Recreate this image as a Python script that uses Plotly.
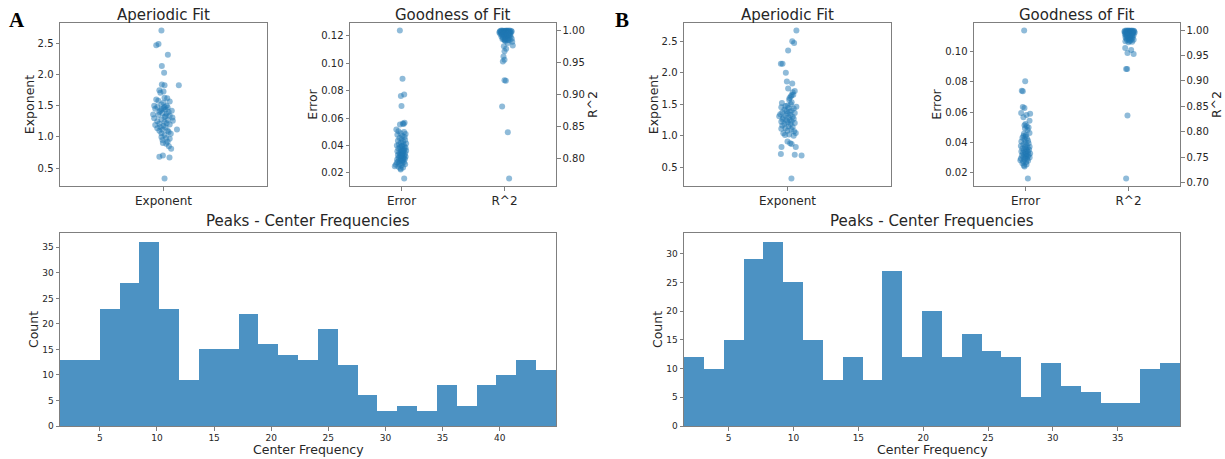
import numpy as np
import plotly.graph_objects as go

# ---------------- DATA ----------------
# Panel A
exp_A = [2.71, 2.47, 2.49, 2.32, 2.14, 2.03, 1.83, 1.84, 1.83, 1.75, 1.71, 1.73, 1.60, 1.63, 1.62,
         1.58, 1.55, 1.52, 1.50, 1.48, 1.47, 1.45, 1.46, 1.44, 1.42, 1.40, 1.38, 1.37, 1.35, 1.34,
         1.32, 1.31, 1.30, 1.28, 1.27, 1.25, 1.24, 1.22, 1.21, 1.20, 1.18, 1.16, 1.15, 1.12, 1.12,
         1.10, 1.08, 1.05, 1.06, 1.03, 1.00, 0.98, 0.97, 0.95, 0.90, 0.89, 0.92, 0.85, 0.81, 0.68,
         0.70, 0.67, 0.33, 1.42, 1.50, 1.57, 1.36, 1.26, 1.14, 1.40, 1.48, 1.33, 1.19, 1.44, 1.10]
exp_A_jitter = [-0.01, -0.035, -0.024, 0.021, -0.008, 0.003, 0.074, -0.008, 0.005, -0.02, -0.015, 0.0, -0.035, 0.005, 0.018,
                -0.025, 0.0, -0.01, 0.015, -0.03, 0.02, -0.04, 0.0, 0.01, -0.015, 0.025, -0.005, 0.015, -0.025, 0.03,
                0.005, 0.043, -0.045, -0.01, 0.02, -0.03, 0.005, 0.015, -0.02, 0.03, 0.0, -0.015, 0.01, 0.065, -0.005,
                0.02, 0.025, 0.035, -0.01, 0.005, -0.01, 0.013, 0.03, -0.005, -0.003, 0.013, 0.02, 0.026, 0.037, -0.02,
                -0.003, 0.029, 0.005, 0.04, -0.045, 0.03, -0.05, 0.045, -0.03, -0.02, 0.005, 0.01, -0.04, -0.01, -0.02]

err_A = [0.124, 0.0888, 0.0761, 0.0773, 0.0688, 0.0554, 0.0561, 0.0566, 0.0558, 0.0517, 0.0505, 0.0498, 0.0490,
         0.0485, 0.0478, 0.0470, 0.0462, 0.0455, 0.0448, 0.0440, 0.0435, 0.0428, 0.0420, 0.0415, 0.0410, 0.0405,
         0.0400, 0.0398, 0.0392, 0.0388, 0.0383, 0.0378, 0.0374, 0.0370, 0.0366, 0.0362, 0.0358, 0.0354, 0.0350,
         0.0346, 0.0342, 0.0338, 0.0335, 0.0331, 0.0328, 0.0325, 0.0321, 0.0318, 0.0315, 0.0311, 0.0308, 0.0305,
         0.0302, 0.0298, 0.0295, 0.0291, 0.0288, 0.0284, 0.0280, 0.0276, 0.0272, 0.0268, 0.0264, 0.0260, 0.0255,
         0.0249, 0.0245, 0.0240, 0.0232, 0.0226, 0.0159, 0.0395, 0.0345, 0.0330, 0.0360]
err_A_jitter = [-0.016, 0.01, -0.006, 0.026, 0.0, -0.015, 0.013, 0.03, 0.02, -0.05, -0.03, 0.025, -0.01,
                0.04, -0.04, 0.01, 0.03, -0.02, 0.0, 0.035, -0.035, 0.015, -0.005, 0.045, -0.025, 0.02,
                -0.045, 0.005, 0.03, -0.015, 0.04, -0.03, 0.01, 0.025, -0.008, 0.045, -0.04, 0.0, 0.018,
                -0.022, 0.035, -0.01, 0.008, -0.035, 0.028, 0.0, -0.018, 0.04, 0.012, -0.028, 0.022, -0.005,
                0.033, -0.042, 0.015, -0.012, 0.005, -0.03, 0.025, -0.045, 0.01, -0.02, 0.035, -0.055, 0.0,
                -0.065, -0.03, 0.015, -0.01, -0.008, 0.026, 0.0, 0.01, -0.002, 0.02]

r2_A = [0.984, 0.976, 0.975, 0.971, 0.967, 0.959, 0.954, 0.951, 0.922, 0.921, 0.881, 0.841, 0.769,
        0.9995, 0.9993, 0.9992, 0.9990, 0.9989, 0.9988, 0.9987, 0.9986, 0.9985, 0.9984, 0.9983, 0.9982,
        0.9980, 0.9979, 0.9978, 0.9977, 0.9975, 0.9974, 0.9973, 0.9972, 0.9970, 0.9969, 0.9967, 0.9966,
        0.9964, 0.9962, 0.9960, 0.9958, 0.9956, 0.9954, 0.9952, 0.9950, 0.9948, 0.9946, 0.9944, 0.9941,
        0.9938, 0.9935, 0.9932, 0.9929, 0.9926, 0.9922, 0.9918, 0.9914, 0.9910, 0.9906, 0.9902, 0.9897,
        0.9892, 0.9887, 0.9882, 0.9876, 0.9870, 0.9865, 0.9860, 0.9855, 0.9850, 0.9845, 0.9840, 0.9830,
        0.9820, 0.9800]
r2_A_jitter = [0.0, 0.08, -0.006, 0.016, 0.0, -0.01, 0.0, -0.016, 0.0, 0.013, -0.023, 0.032, 0.045,
               0.02, -0.03, 0.05, 0.0, -0.015, 0.035, 0.065, -0.04, 0.01, 0.025, -0.02, 0.045,
               -0.005, 0.07, -0.045, 0.015, 0.03, -0.025, 0.0, 0.055, -0.035, 0.02, -0.01, 0.04,
               -0.05, 0.005, 0.03, -0.02, 0.06, 0.0, -0.03, 0.015, 0.045, -0.01, 0.025, -0.04,
               0.0, 0.035, -0.015, 0.055, 0.01, -0.025, 0.03, -0.005, 0.045, 0.015, -0.03, 0.06,
               0.0, 0.025, -0.015, 0.04, 0.005, 0.07, -0.02, 0.02, 0.0, 0.035, 0.05, 0.01,
               0.075, 0.03]

counts_A = [13, 13, 23, 28, 36, 23, 9, 15, 15, 22, 16, 14, 13, 19, 12, 6, 3, 4, 3, 8, 4, 8, 10, 13, 11]
freq_range_A = [1.51, 44.93]

# Panel B
exp_B = [2.67, 2.50, 2.47, 2.35, 2.14, 2.14, 1.997, 1.86, 1.83, 1.75, 1.71, 1.69, 1.65, 1.62, 1.60,
         1.57, 1.52, 1.50, 1.48, 1.46, 1.45, 1.44, 1.43, 1.41, 1.40, 1.39, 1.38, 1.37, 1.36, 1.35,
         1.34, 1.33, 1.32, 1.31, 1.30, 1.29, 1.28, 1.27, 1.26, 1.25, 1.24, 1.23, 1.22, 1.21, 1.20,
         1.19, 1.18, 1.16, 1.15, 1.14, 1.12, 1.11, 1.10, 1.08, 1.07, 1.045, 1.04, 1.02, 1.01, 1.00,
         0.91, 0.88, 0.87, 0.82, 0.82, 0.71, 0.70, 0.685, 0.32, 1.53, 1.64, 1.47]
exp_B_jitter = [0.043, 0.023, 0.032, 0.003, -0.032, -0.024, -0.008, -0.003, 0.023, 0.003, 0.035, 0.025, 0.028, 0.016, 0.01,
                0.008, -0.027, 0.016, 0.0, 0.043, -0.03, 0.005, 0.03, -0.015, 0.02, -0.005, 0.01, -0.025, 0.035, 0.0,
                -0.035, 0.015, -0.01, -0.04, 0.025, 0.005, -0.02, 0.03, -0.024, 0.01, -0.005, 0.02, -0.03, 0.0, 0.035,
                -0.015, 0.015, -0.025, 0.005, 0.025, -0.01, -0.03, 0.018, 0.0, 0.032, 0.04, -0.02, 0.008, -0.012, 0.03,
                0.0, 0.013, 0.02, -0.029, 0.04, -0.032, 0.035, 0.068, 0.019, 0.02, 0.02, -0.01]

err_B = [0.1142, 0.0804, 0.0741, 0.0738, 0.0633, 0.0627, 0.0593, 0.0589, 0.0580, 0.0565, 0.0542, 0.0520, 0.0512,
         0.0505, 0.0498, 0.0490, 0.0480, 0.0460, 0.0455, 0.0448, 0.0440, 0.0436, 0.0430, 0.0425, 0.0418, 0.0410,
         0.0405, 0.0398, 0.0392, 0.0386, 0.0380, 0.0375, 0.0370, 0.0366, 0.0362, 0.0358, 0.0354, 0.0350, 0.0346,
         0.0342, 0.0338, 0.0335, 0.0331, 0.0328, 0.0325, 0.0322, 0.0318, 0.0315, 0.0312, 0.0308, 0.0305, 0.0302,
         0.0298, 0.0295, 0.0292, 0.0288, 0.0284, 0.0280, 0.0276, 0.0272, 0.0266, 0.0260, 0.0252, 0.0245, 0.0238,
         0.0158]
err_B_jitter = [-0.013, -0.003, -0.036, -0.026, -0.026, -0.01, -0.042, 0.045, 0.01, -0.02, 0.039, 0.0, -0.01,
                0.013, 0.03, -0.005, 0.02, 0.039, -0.015, 0.005, -0.02, 0.0, -0.03, 0.015, -0.01, 0.025,
                -0.04, 0.0, 0.03, -0.02, 0.01, -0.045, 0.04, -0.005, 0.02, -0.03, 0.005, 0.035, -0.015,
                0.015, -0.04, 0.025, 0.0, -0.025, 0.045, 0.01, -0.01, 0.03, -0.035, 0.005, 0.02, -0.02,
                0.04, 0.0, -0.045, 0.015, -0.01, -0.05, 0.025, -0.02, 0.005, -0.03, 0.01, -0.015, -0.01,
                0.023]

r2_B = [0.965, 0.961, 0.955, 0.953, 0.9235, 0.9235, 0.832, 0.7075,
        0.9995, 0.9993, 0.9991, 0.9990, 0.9988, 0.9986, 0.9985, 0.9983, 0.9981, 0.9979, 0.9977, 0.9975,
        0.9973, 0.9971, 0.9969, 0.9966, 0.9964, 0.9961, 0.9958, 0.9955, 0.9952, 0.9949, 0.9946, 0.9943,
        0.9940, 0.9936, 0.9932, 0.9928, 0.9924, 0.9920, 0.9915, 0.9910, 0.9905, 0.9900, 0.9894, 0.9888,
        0.9882, 0.9876, 0.9870, 0.9863, 0.9856, 0.9849, 0.9842, 0.9835, 0.9828, 0.9820, 0.9812, 0.9804,
        0.9796, 0.9788, 0.9780, 0.9770, 0.9760]
r2_B_jitter = [-0.032, 0.026, -0.01, 0.05, -0.023, -0.013, -0.01, -0.023,
               0.0, 0.03, -0.02, 0.05, 0.01, -0.035, 0.04, 0.02, -0.01, 0.055, 0.0, -0.025,
               0.03, 0.015, -0.04, 0.045, 0.005, -0.015, 0.025, 0.06, -0.03, 0.01, 0.035, -0.005,
               0.02, -0.02, 0.045, 0.0, -0.035, 0.03, 0.01, -0.015, 0.05, 0.02, -0.025, 0.005,
               0.035, -0.01, 0.02, -0.03, 0.04, 0.0, 0.015, -0.02, 0.03, 0.0, 0.05, -0.015,
               0.02, 0.01, -0.03, 0.035, 0.0]

counts_B = [12, 10, 15, 29, 32, 25, 15, 8, 12, 8, 27, 12, 20, 12, 16, 13, 12, 5, 11, 7, 6, 4, 4, 10, 11]
freq_range_B = [1.55, 39.81]

# ---------------- STYLE ----------------
W, H = 1225, 459
PT_COLOR = "rgba(31,119,180,0.5)"
BAR_COLOR = "rgba(31,119,180,0.8)"
SPINE = "#7f7f7f"
TXT = "#262626"
FONT = "DejaVu Sans"


def dx(a, b):
    return [a / W, b / W]


def dy(top, bottom):
    return [1 - bottom / H, 1 - top / H]


def pad_range(vals, frac=0.05):
    lo, hi = min(vals), max(vals)
    m = (hi - lo) * frac
    return [lo - m, hi + m]


fig = go.Figure()


def scatter(x, y, xa, ya):
    fig.add_trace(go.Scatter(x=x, y=y, mode="markers", xaxis=xa, yaxis=ya,
                             marker=dict(size=6, color=PT_COLOR, line=dict(width=0)),
                             showlegend=False, hoverinfo="y"))


def hist(counts, rng, xa, ya):
    n = len(counts)
    edges = np.linspace(rng[0], rng[1], n + 1)
    centers = (edges[:-1] + edges[1:]) / 2
    width = edges[1] - edges[0]
    fig.add_trace(go.Bar(x=centers, y=counts, width=width, xaxis=xa, yaxis=ya,
                         marker=dict(color=BAR_COLOR, line=dict(width=0)),
                         showlegend=False))


# Panel A traces
scatter(np.array(exp_A_jitter), exp_A, "x", "y")
scatter(np.array(err_A_jitter), err_A, "x2", "y2")
scatter(1 + np.array(r2_A_jitter), r2_A, "x2", "y3")
hist(counts_A, freq_range_A, "x4", "y4")
# Panel B traces
scatter(np.array(exp_B_jitter), exp_B, "x5", "y5")
scatter(np.array(err_B_jitter), err_B, "x6", "y6")
scatter(1 + np.array(r2_B_jitter), r2_B, "x6", "y7")
hist(counts_B, freq_range_B, "x8", "y8")

base = dict(showline=True, linecolor=SPINE, linewidth=1, mirror=True, ticks="outside",
            ticklen=3.5, tickcolor=SPINE, showgrid=False, zeroline=False, automargin=False,
            tickfont=dict(size=10, color=TXT, family=FONT))

TOP = (23, 186)
HIST = (233, 426)
boxes = {
    "A_exp": (60, 267), "A_gof": (350, 556), "A_hist": (60, 556),
    "B_exp": (684, 891), "B_gof": (974, 1180), "B_hist": (684, 1180),
}


def cat_x(dom, tv, tt, rng, anchor):
    d = dict(base)
    d.update(domain=dx(*dom), range=rng, tickvals=tv, ticktext=tt, anchor=anchor,
             tickfont=dict(size=12, color=TXT, family=FONT))
    return d


def num_y(dom_tb, rng, title, anchor, dtick=None, tickformat=None, **kw):
    d = dict(base)
    d.update(domain=dy(*dom_tb), range=rng, anchor=anchor,
             title=dict(text=title, font=dict(size=12.5, color=TXT, family=FONT), standoff=0))
    if dtick is not None:
        d.update(dtick=dtick, tick0=0)
    if tickformat:
        d.update(tickformat=tickformat)
    d.update(kw)
    return d


def hist_x(dom, rng, anchor):
    d = dict(base)
    d.update(domain=dx(*dom), range=rng, anchor=anchor, dtick=5, tick0=0,
             tickfont=dict(size=9, color=TXT, family=FONT))
    return d


def hist_y(rng, anchor, dtick):
    d = dict(base)
    d.update(domain=dy(*HIST), range=rng, anchor=anchor, dtick=dtick, tick0=0,
             tickfont=dict(size=9, color=TXT, family=FONT),
             title=dict(text="Count", font=dict(size=12.5, color=TXT, family=FONT), standoff=0))
    return d


layout = dict(
    width=W, height=H, margin=dict(l=0, r=0, t=0, b=0, autoexpand=False),
    paper_bgcolor="white", plot_bgcolor="white",
    font=dict(family=FONT, color=TXT), bargap=0, barmode="overlay",
    xaxis=cat_x(boxes["A_exp"], [0], ["Exponent"], [-0.5, 0.5], "y"),
    yaxis=num_y(TOP, pad_range(exp_A), "Exponent", "x", dtick=0.5, tickformat=".1f"),
    xaxis2=cat_x(boxes["A_gof"], [0, 1], ["Error", "R^2"], [-0.5, 1.5], "y2"),
    yaxis2=num_y(TOP, pad_range(err_A), "Error", "x2", dtick=0.02, tickformat=".2f"),
    yaxis3=num_y(TOP, pad_range(r2_A), "R^2", "x2", dtick=0.05, tickformat=".2f",
                 overlaying="y2", side="right", showline=False, mirror=False),
    xaxis4=hist_x(boxes["A_hist"], freq_range_A, "y4"),
    yaxis4=hist_y([0, max(counts_A) * 1.05], "x4", 5),
    xaxis5=cat_x(boxes["B_exp"], [0], ["Exponent"], [-0.5, 0.5], "y5"),
    yaxis5=num_y(TOP, pad_range(exp_B), "Exponent", "x5", dtick=0.5, tickformat=".1f"),
    xaxis6=cat_x(boxes["B_gof"], [0, 1], ["Error", "R^2"], [-0.5, 1.5], "y6"),
    yaxis6=num_y(TOP, pad_range(err_B), "Error", "x6", dtick=0.02, tickformat=".2f"),
    yaxis7=num_y(TOP, pad_range(r2_B), "R^2", "x6", dtick=0.05, tickformat=".2f",
                 overlaying="y6", side="right", showline=False, mirror=False),
    xaxis8=hist_x(boxes["B_hist"], freq_range_B, "y8"),
    yaxis8=hist_y([0, max(counts_B) * 1.05], "x8", 5),
)
fig.update_layout(**layout)

# Subplot titles, histogram x-axis titles and panel letters
titles = [
    ("Aperiodic Fit", boxes["A_exp"], 15, 15),
    ("Goodness of Fit", boxes["A_gof"], 15, 15),
    ("Peaks - Center Frequencies", boxes["A_hist"], 221, 15),
    ("Aperiodic Fit", boxes["B_exp"], 15, 15),
    ("Goodness of Fit", boxes["B_gof"], 15, 15),
    ("Peaks - Center Frequencies", boxes["B_hist"], 221, 15),
    ("Center Frequency", boxes["A_hist"], 449, 12.5),
    ("Center Frequency", boxes["B_hist"], 449, 12.5),
]
for text, (a, b), ypix, size in titles:
    fig.add_annotation(text=text, x=(a + b) / 2 / W, y=1 - ypix / H, xref="paper", yref="paper",
                       showarrow=False, xanchor="center", yanchor="middle",
                       font=dict(size=size, color=TXT, family=FONT))

for letter, xpix in [("A", 17), ("B", 622)]:
    fig.add_annotation(text="<b>%s</b>" % letter, x=xpix / W, y=1 - 20 / H, xref="paper", yref="paper",
                       showarrow=False, xanchor="center", yanchor="middle",
                       font=dict(size=21, color="black", family="Liberation Serif"))

# remove the default page margin so the figure fills the window exactly
fig.write_html("out.html", config={"displayModeBar": False},
               post_script="document.body.style.margin='0px';document.body.style.overflow='hidden';")
